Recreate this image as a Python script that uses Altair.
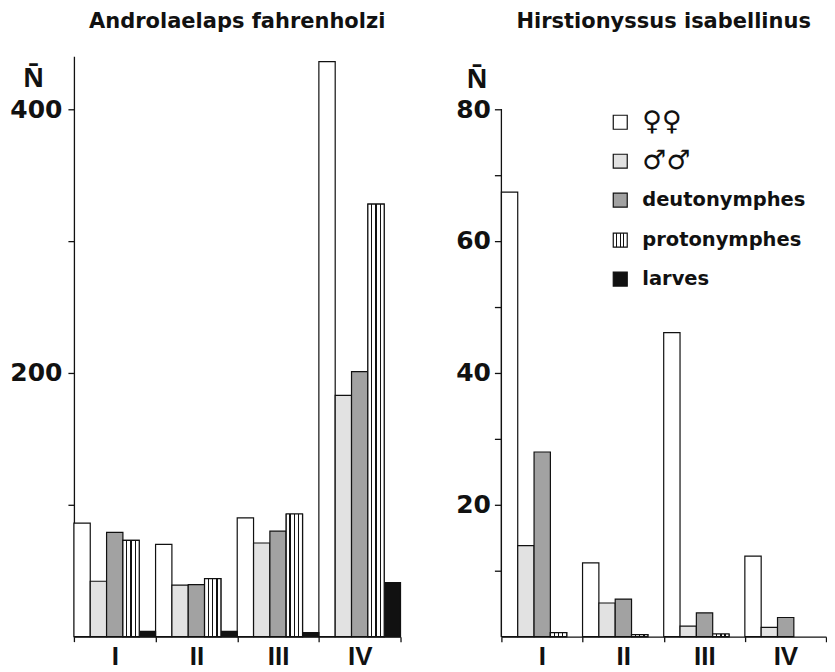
import altair as alt
import pandas as pd

groups = ["I", "II", "III", "IV"]
stages = ["femelles", "males", "deutonymphes", "protonymphes", "larves"]

# Androlaelaps fahrenholzi (mean N)
andro_femelles = [86, 70, 90, 436]
andro_males = [42, 39, 71, 183]
andro_deuto = [79, 39.5, 80, 201]
andro_proto = [73, 44, 93, 328]
andro_larves = [4, 4, 3, 41]

# Hirstionyssus isabellinus (mean N)
hirst_femelles = [67.4, 11.2, 46.1, 12.2]
hirst_males = [13.8, 5.1, 1.6, 1.4]
hirst_deuto = [28.0, 5.7, 3.6, 2.9]
hirst_proto = [0.6, 0.3, 0.4, 0.0]
hirst_larves = [0, 0, 0, 0]

legend_labels = ["\u2640\u2640", "\u2642\u2642", "deutonymphes", "protonymphes", "larves"]
fill_colors = ["white", "#e2e2e2", "#a2a2a2", "white", "#111111"]

INK = "#111111"

stripe = alt.LinearGradient(
    gradient="linear", x1=0, x2=1, y1=0, y2=0,
    stops=[
        alt.GradientStop(offset=0, color="white"),
        alt.GradientStop(offset=0.2, color="white"),
        alt.GradientStop(offset=0.2, color=INK),
        alt.GradientStop(offset=0.28, color=INK),
        alt.GradientStop(offset=0.28, color="white"),
        alt.GradientStop(offset=0.46, color="white"),
        alt.GradientStop(offset=0.46, color=INK),
        alt.GradientStop(offset=0.54, color=INK),
        alt.GradientStop(offset=0.54, color="white"),
        alt.GradientStop(offset=0.72, color="white"),
        alt.GradientStop(offset=0.72, color=INK),
        alt.GradientStop(offset=0.8, color=INK),
        alt.GradientStop(offset=0.8, color="white"),
        alt.GradientStop(offset=1, color="white"),
    ],
)


def make_df(series):
    rows = []
    for stage, vals in zip(stages, series):
        for g, v in zip(groups, vals):
            rows.append({"group": g, "stage": stage, "n": v})
    df = pd.DataFrame(rows)
    return df[df["n"] > 0]


def panel(title, df, ymax, tick_vals, label_step, width, title_x, title_y,
          tick_size, label_pad, show_domain, domain_top=None, legend=False):
    x = alt.X(
        "group:N",
        scale=alt.Scale(domain=groups, paddingInner=0, paddingOuter=0),
        axis=alt.Axis(
            title=None, labelAngle=0, tickBand="extent", tickSize=5,
            labelPadding=2, labelFont="Liberation Sans", labelFontSize=26,
            labelFontWeight="bold", labelColor=INK, domainColor=INK,
            tickColor=INK, domainWidth=1.3, tickWidth=1.3,
        ),
    )
    xo = alt.XOffset(
        "stage:N", scale=alt.Scale(domain=stages, paddingInner=0, paddingOuter=0)
    )
    y = alt.Y(
        "n:Q",
        scale=alt.Scale(domain=[0, ymax], nice=False, zero=True),
        axis=alt.Axis(
            values=tick_vals,
            labelExpr=f"datum.value % {label_step} == 0 ? datum.label : ''",
            grid=False, domain=show_domain,
            title="N\u0304", titleAngle=0, titleX=title_x, titleY=title_y,
            titleFont="Noto Sans", titleFontSize=26, titleFontWeight="bold",
            titleAlign="center", titleBaseline="alphabetic", titleColor=INK,
            labelFont="DejaVu Sans", labelFontSize=25, labelFontWeight="bold",
            labelColor=INK, labelPadding=label_pad, tickSize=tick_size,
            domainColor=INK, tickColor=INK, domainWidth=1.3, tickWidth=1.3,
        ),
    )
    bars = alt.Chart(df).mark_bar(stroke=INK, strokeWidth=1.2).encode(
        x=x, xOffset=xo, y=y,
        fill=alt.Fill("stage:N", scale=alt.Scale(domain=stages, range=fill_colors), legend=None),
    )
    stripes = (
        alt.Chart(df)
        .transform_filter(alt.datum.stage == "protonymphes")
        .mark_bar(fill=stripe, stroke=INK, strokeWidth=1.2)
        .encode(x=x, xOffset=xo, y=y)
    )
    layers = [bars, stripes]
    if domain_top is not None:
        layers.append(
            alt.Chart(pd.DataFrame({"n": [0]}))
            .mark_rule(color=INK, strokeWidth=1.3)
            .encode(x=alt.value(0), y=alt.datum(0), y2=alt.datum(domain_top))
        )
    if legend:
        row_y = [66, 105, 144, 184, 223]
        for lab, col, yc in zip(legend_labels, fill_colors, row_y):
            fill = stripe if lab == "protonymphes" else col
            sym = (
                alt.Chart(pd.DataFrame({"t": [lab]}))
                .mark_rect(fill=fill, stroke=INK, strokeWidth=1.2)
                .encode(x=alt.value(112), x2=alt.value(126),
                        y=alt.value(yc - 7), y2=alt.value(yc + 7))
            )
            is_sym = lab.startswith("\u2640") or lab.startswith("\u2642")
            txt = (
                alt.Chart(pd.DataFrame({"t": [lab]}))
                .mark_text(align="left", baseline="middle", font="DejaVu Sans",
                           fontSize=27 if is_sym else 19.5,
                           fontWeight="normal" if is_sym else "bold", color=INK)
                .encode(x=alt.value(141), y=alt.value(yc), text="t:N")
            )
            layers += [sym, txt]
    return alt.layer(*layers).properties(
        width=width, height=581,
        view=alt.ViewBackground(stroke="transparent", strokeWidth=0),
        title=alt.TitleParams(
            title, font="DejaVu Sans", fontSize=21, fontWeight="bold",
            anchor="middle", frame="group", offset=24, color=INK,
        ),
    )


left = panel(
    "Androlaelaps fahrenholzi",
    make_df([andro_femelles, andro_males, andro_deuto, andro_proto, andro_larves]),
    440, [100, 200, 300, 400], 200, 327, -41, 30, 6, 6, True,
)
right = panel(
    "Hirstionyssus isabellinus",
    make_df([hirst_femelles, hirst_males, hirst_deuto, hirst_proto, hirst_larves]),
    88, [10, 20, 30, 40, 50, 60, 70, 80], 20, 325, -25, 31, 7, 4, False,
    domain_top=80, legend=True,
)

chart = (
    alt.hconcat(left, right, spacing=54)
    .properties(padding={"left": 1, "top": 3, "right": 0, "bottom": 0})
    .configure_view(stroke="transparent", strokeWidth=0)
    .configure(background="white")
)

chart.save("out.html", embed_options={"renderer": "svg", "actions": False})
